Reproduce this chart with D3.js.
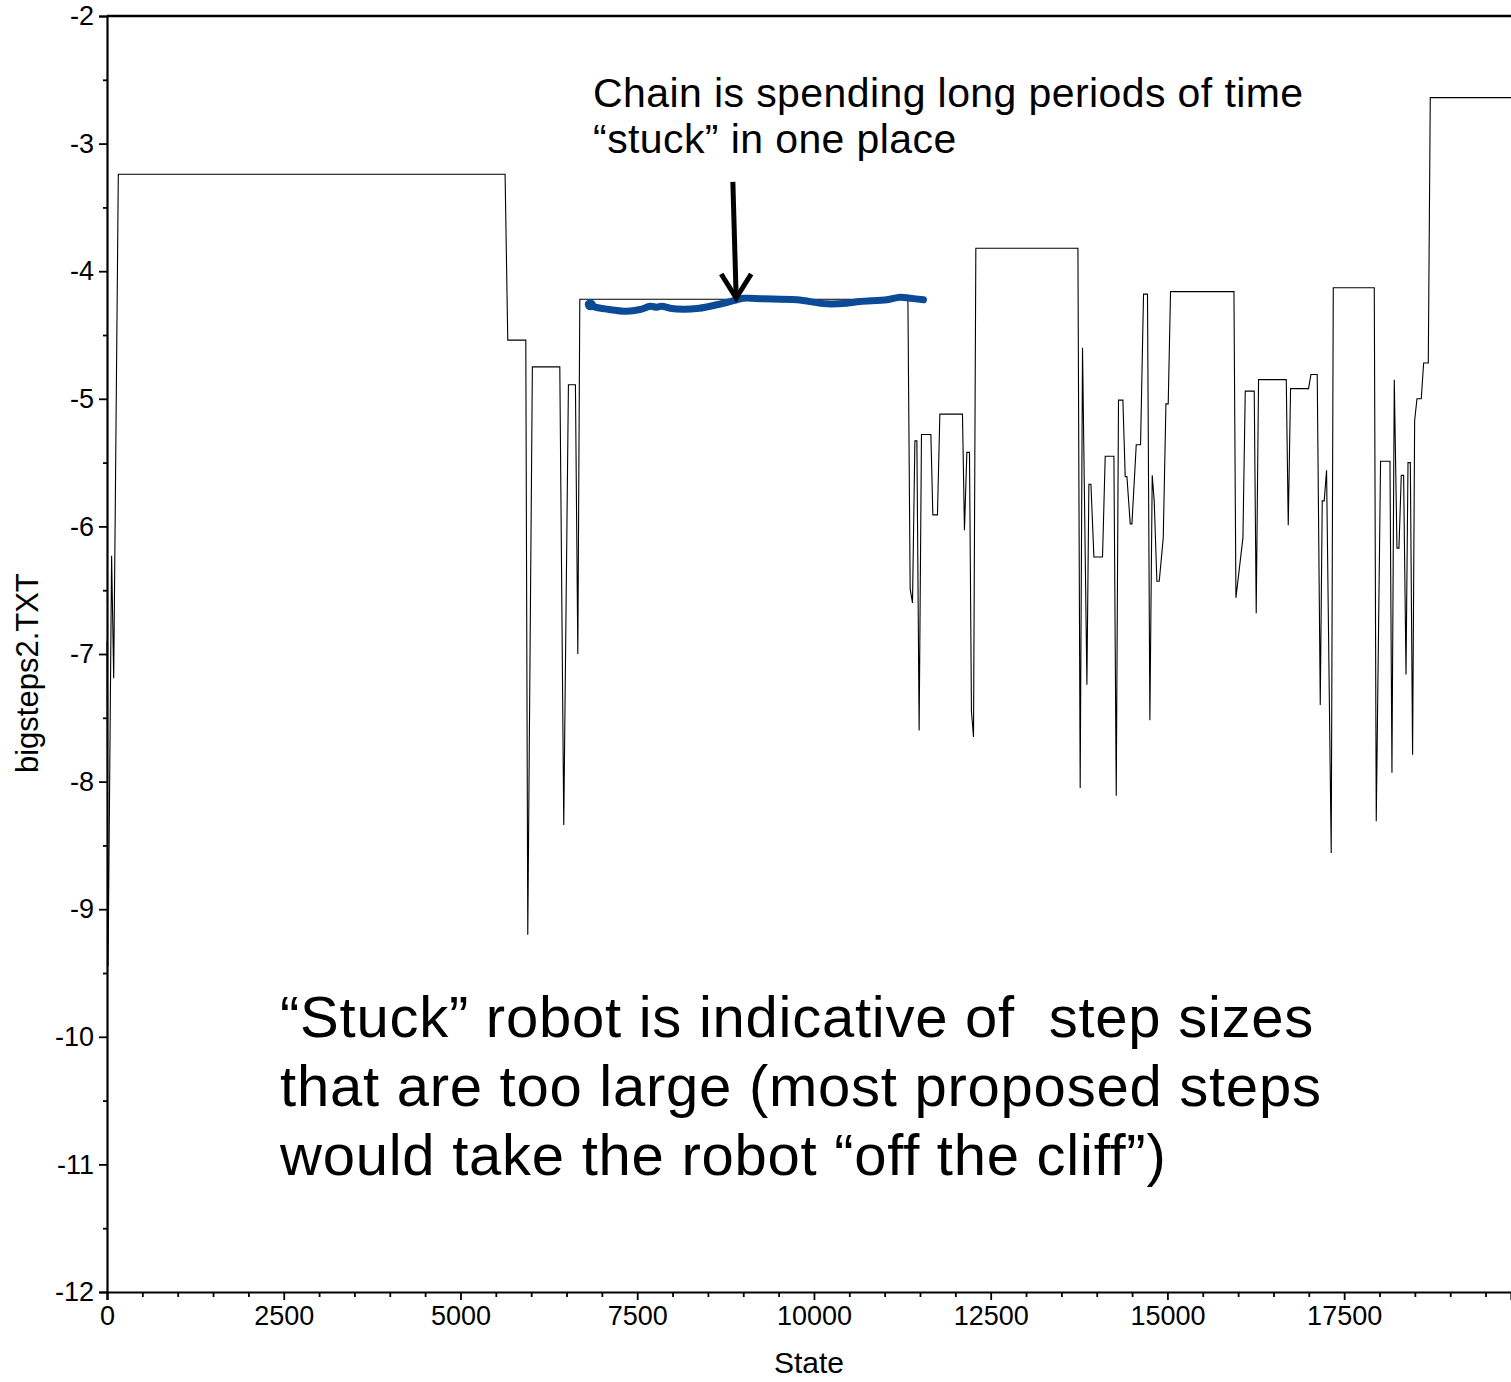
<!DOCTYPE html>
<html>
<head>
<meta charset="utf-8">
<script src="https://cdn.jsdelivr.net/npm/d3@7"></script>
<style>
  body { margin: 0; background: #fff; }
  text { font-family: "Liberation Sans", Arial, Helvetica, sans-serif; fill: #000; }
</style>
</head>
<body>
<div id="chart"></div>
<script>
//////////////////////////////////////////////////////////////////////////////
// Data (MCMC state vs. log value)

const states = [0, 15, 65, 95, 160, 5631, 5669, 5924, 5952, 6017, 6405, 6461, 6527, 6626, 6660, 6688,
    11329, 11361, 11394, 11428, 11456, 11488, 11521, 11654, 11682, 11747, 11781, 12101, 12129, 12163,
    12200, 12228, 12257, 12290, 13734, 13766, 13799, 13861, 13889, 13918, 13960, 14082, 14120, 14243,
    14276, 14308, 14370, 14403, 14427, 14474, 14498, 14559, 14620, 14662, 14718, 14752, 14785, 14813,
    14851, 14884, 14941, 14979, 15011, 15044, 15941, 15969, 16068, 16101, 16228, 16256, 16289, 16681,
    16709, 16742, 16996, 17030, 17119, 17162, 17190, 17218, 17251, 17317, 17346, 17926, 17954, 18015,
    18148, 18176, 18209, 18247, 18275, 18308, 18341, 18375, 18403, 18436, 18468, 18497, 18530, 18591,
    18624, 18690, 18718, 19860];

const values = [-6.9, -9.45, -6.23, -7.19, -3.24, -3.24, -4.54, -4.54, -9.20, -4.75, -4.75, -8.34, -4.89, -4.89, -7.0, -4.22,
    -4.22, -6.49, -6.60, -5.33, -5.33, -7.60, -5.28, -5.28, -5.91, -5.91, -5.12, -5.12, -6.03, -5.42,
    -5.42, -7.45, -7.65, -3.82, -3.82, -8.05, -4.60, -7.24, -5.67, -5.67, -6.24, -6.24, -5.45, -5.45,
    -8.11, -5.01, -5.01, -5.61, -5.61, -5.98, -5.98, -5.36, -5.36, -4.18, -4.18, -7.52, -5.60, -5.80,
    -6.43, -6.43, -6.09, -5.04, -5.04, -4.16, -4.16, -6.56, -6.09, -4.94, -4.94, -6.68, -4.85, -4.85,
    -5.99, -4.92, -4.92, -4.81, -4.81, -7.40, -5.80, -5.80, -5.56, -8.56, -4.13, -4.13, -8.31, -5.49,
    -5.49, -7.93, -4.85, -6.17, -6.17, -5.60, -5.60, -7.16, -5.50, -5.50, -7.79, -5.17, -5.00, -5.00,
    -4.72, -4.72, -2.64, -2.64];

// hand drawn blue stroke over the "stuck" stretch
const inkStates = [6810, 6904, 7046, 7353, 7541, 7683, 7777, 7848, 7966, 8154, 8343, 8531, 8720, 8909,
    9003, 9286, 9758, 10182, 10465, 10654, 11031, 11220, 11361, 11549];
const inkValues = [-4.256, -4.282, -4.295, -4.314, -4.300, -4.275, -4.282, -4.275, -4.290, -4.298, -4.293,
    -4.275, -4.251, -4.224, -4.212, -4.216, -4.224, -4.256, -4.251, -4.238, -4.224, -4.204, -4.212, -4.224];

const xTicks = [0, 2500, 5000, 7500, 10000, 12500, 15000, 17500];
const yTicks = [-2, -3, -4, -5, -6, -7, -8, -9, -10, -11, -12];

const xLabel = "State";
const yLabel = "bigsteps2.TXT";

const noteTop = ["Chain is spending long periods of time", "\u201cstuck\u201d in one place"];
const noteBottom = ["\u201cStuck\u201d robot is indicative of  step sizes",
    "that are too large (most proposed steps",
    "would take the robot \u201coff the cliff\u201d)"];

// anchors of the notes and arrow, in data units
const noteTopAt = [6876, -2.716];
const noteBottomAt = [2448, -10.0];
const arrowFrom = [8853, -3.30];
const arrowTo = [8900, -4.21];

//////////////////////////////////////////////////////////////////////////////
// Scales and svg

var width = 1511, height = 1382;
var margin = { left: 107, top: 16, bottom: 90 };

var xScale = d3.scaleLinear().domain([0, 19860]).range([margin.left, width]);
var yScale = d3.scaleLinear().domain([-12, -2]).range([height - margin.bottom, margin.top]);

var svg = d3.select("#chart")
    .append("svg")
    .attr("width", width)
    .attr("height", height);

svg.append("rect").attr("width", width).attr("height", height).attr("fill", "#fff");

//////////////////////////////////////////////////////////////////////////////
// Trace

var trace = d3.line()
    .x(function(d, i) { return xScale(states[i]); })
    .y(function(d) { return yScale(d); });

svg.append("path")
    .datum(values)
    .attr("d", trace)
    .attr("fill", "none")
    .attr("stroke", "#000")
    .attr("stroke-width", 1.1);

//////////////////////////////////////////////////////////////////////////////
// Axes

svg.append("g")
    .attr("transform", "translate(" + margin.left + ",0)")
    .call(d3.axisLeft(yScale).tickValues(yTicks).tickFormat(d => String(d)).tickSize(8).tickPadding(5));

svg.append("g")
    .attr("transform", "translate(" + margin.left + ",0)")
    .call(d3.axisLeft(yScale).tickValues(d3.range(-11.5, -2, 1)).tickFormat("").tickSize(4))
    .call(g => g.select(".domain").remove());

svg.append("g")
    .attr("transform", "translate(0," + yScale(-12) + ")")
    .call(d3.axisBottom(xScale).tickValues(xTicks).tickFormat(d => String(d)).tickSize(8).tickPadding(6));

svg.append("g")
    .attr("transform", "translate(0," + yScale(-12) + ")")
    .call(d3.axisBottom(xScale).tickValues(d3.range(500, 19860, 500).filter(d => d % 2500 != 0)).tickFormat("").tickSize(5))
    .call(g => g.select(".domain").remove());

svg.selectAll(".domain").attr("stroke", "#000").attr("stroke-width", 2.2);
svg.selectAll(".tick line").attr("stroke", "#000").attr("stroke-width", 1.8);
svg.selectAll(".tick text").attr("font-size", 27).attr("fill", "#000")
    .attr("font-family", "'Liberation Sans', Arial, Helvetica, sans-serif");

// top frame line
svg.append("line")
    .attr("x1", xScale(0)).attr("x2", width)
    .attr("y1", yScale(-2)).attr("y2", yScale(-2))
    .attr("stroke", "#000").attr("stroke-width", 2.6);

svg.append("text")
    .attr("x", (margin.left + width) / 2)
    .attr("y", 1373)
    .attr("text-anchor", "middle")
    .attr("font-size", 30)
    .text(xLabel);

svg.append("text")
    .attr("transform", "translate(38," + yScale(-7.15) + ") rotate(-90)")
    .attr("text-anchor", "middle")
    .attr("font-size", 31)
    .text(yLabel);

//////////////////////////////////////////////////////////////////////////////
// Annotations

var ink = d3.line()
    .x(function(d, i) { return xScale(inkStates[i]); })
    .y(function(d) { return yScale(d); })
    .curve(d3.curveCatmullRom);

svg.append("path")
    .datum(inkValues)
    .attr("d", ink)
    .attr("fill", "none")
    .attr("stroke", "#0b4a97")
    .attr("stroke-width", 7)
    .attr("stroke-linecap", "round")
    .attr("stroke-linejoin", "round");

// the pen blot where the stroke starts
svg.append("circle")
    .attr("cx", xScale(inkStates[0]) + 2)
    .attr("cy", yScale(inkValues[0]) + 1)
    .attr("r", 5.5)
    .attr("fill", "#0b4a97");

var tipX = xScale(arrowTo[0]), tipY = yScale(arrowTo[1]);
svg.append("line")
    .attr("x1", xScale(arrowFrom[0])).attr("y1", yScale(arrowFrom[1]))
    .attr("x2", tipX).attr("y2", tipY)
    .attr("stroke", "#000").attr("stroke-width", 5);
svg.append("path")
    .attr("d", "M" + (tipX - 15) + "," + (tipY - 24) + "L" + tipX + "," + tipY + "L" + (tipX + 15) + "," + (tipY - 24))
    .attr("fill", "none")
    .attr("stroke", "#000")
    .attr("stroke-width", 5);

svg.append("text")
    .attr("x", xScale(noteTopAt[0]))
    .attr("y", yScale(noteTopAt[1]))
    .attr("font-size", 41)
    .attr("letter-spacing", 0.4)
    .selectAll("tspan")
    .data(noteTop)
    .enter()
    .append("tspan")
    .attr("x", xScale(noteTopAt[0]))
    .attr("dy", (d, i) => i == 0 ? 0 : 46)
    .text(d => d);

svg.append("text")
    .attr("x", xScale(noteBottomAt[0]))
    .attr("y", yScale(noteBottomAt[1]))
    .attr("font-size", 58)
    .attr("letter-spacing", 0.75)
    .style("white-space", "pre")
    .selectAll("tspan")
    .data(noteBottom)
    .enter()
    .append("tspan")
    .attr("x", xScale(noteBottomAt[0]))
    .attr("dy", (d, i) => i == 0 ? 0 : 69)
    .text(d => d);
</script>
</body>
</html>
